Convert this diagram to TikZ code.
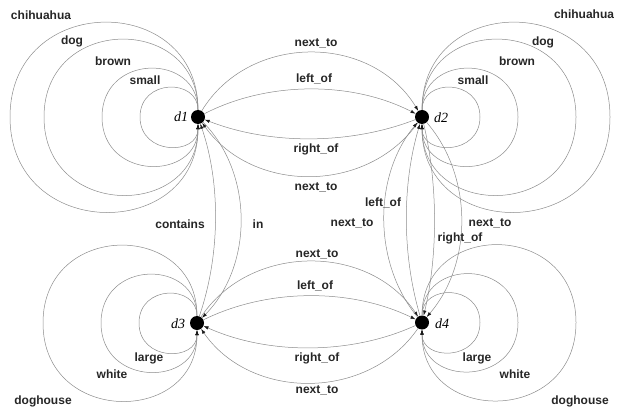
\documentclass[tikz,border=0pt]{standalone}
\usepackage{fontspec}
\setmainfont{Liberation Sans}
\newfontfamily\italfont{Liberation Serif}
\usetikzlibrary{arrows.meta}

\begin{document}
\begin{tikzpicture}[x=1pt,y=-1pt,
  nodedot/.style={circle,fill=black,minimum size=14pt,inner sep=0pt},
  nodetext/.style={font=\italfont\itshape\fontsize{14}{14}\selectfont,inner sep=0pt},
  reltext/.style={font=\bfseries\fontsize{12}{12}\selectfont,text=black!85,inner sep=0pt,
                  text height=8.6pt,text depth=0pt},
  conn/.style={draw=black!45,line width=0.5pt,
               -{Latex[length=5pt,width=3.4pt,color=black!90]}},
]
\useasboundingbox (0,0) rectangle (617,406);

% the four entities
\node[nodedot] (d1) at (198,117) {};
\node[nodedot] (d2) at (422,117) {};
\node[nodedot] (d3) at (197,323) {};
\node[nodedot] (d4) at (422,322.5) {};
\node[nodetext] (t1) at (181,117) {d1};
\node[nodetext] (t2) at (441,118) {d2};
\node[nodetext] (t3) at (178,324) {d3};
\node[nodetext] (t4) at (442,324) {d4};

% attribute self-loops: circles through the entity, left for d1/d3, right for d2/d4
\foreach \r/\nm in {29/small,48/brown,77/dog,94/chihuahua}{
  \coordinate (d1-\nm) at (198-2*\r,117);
  \draw[conn] (d1) .. controls +(0,-1.333*\r) and +(0,-1.333*\r) .. (d1-\nm)
                   .. controls +(0,1.333*\r) and +(0,1.333*\r) .. (d1);
  \coordinate (d2-\nm) at (422+2*\r,117);
  \draw[conn] (d2) .. controls +(0,-1.333*\r) and +(0,-1.333*\r) .. (d2-\nm)
                   .. controls +(0,1.333*\r) and +(0,1.333*\r) .. (d2);
}
\foreach \r/\nm in {29/large,48/white,77/doghouse}{
  \coordinate (d3-\nm) at (197-2*\r,323);
  \draw[conn] (d3) .. controls +(0,-1.333*\r) and +(0,-1.333*\r) .. (d3-\nm)
                   .. controls +(0,1.333*\r) and +(0,1.333*\r) .. (d3);
  \coordinate (d4-\nm) at (422+2*\r,322.5);
  \draw[conn] (d4) .. controls +(0,-1.333*\r) and +(0,-1.333*\r) .. (d4-\nm)
                   .. controls +(0,1.333*\r) and +(0,1.333*\r) .. (d4);
}

% loop labels
\node[reltext] (a1) at (41,15) {chihuahua};
\node[reltext] (a2) at (72,40) {dog};
\node[reltext] (a3) at (113,61) {brown};
\node[reltext] (a4) at (145,80) {small};
\node[reltext] (b1) at (584,14) {chihuahua};
\node[reltext] (b2) at (543,41) {dog};
\node[reltext] (b3) at (517,61) {brown};
\node[reltext] (b4) at (473,80) {small};
\node[reltext] (c1) at (149,357) {large};
\node[reltext] (c2) at (112,374) {white};
\node[reltext] (c3) at (43,400) {doghouse};
\node[reltext] (e1) at (477,357) {large};
\node[reltext] (e2) at (515,374) {white};
\node[reltext] (e3) at (580,400) {doghouse};

% d1 -- d2
\draw[conn] (d1) .. controls (249,33) and (371,33) .. (d2);
\draw[conn] (d1) .. controls (268,81) and (352,81) .. (d2);
\draw[conn] (d2) .. controls (350,145) and (270,145) .. (d1);
\draw[conn] (d2) .. controls (367,194) and (253,194) .. (d1);
\node[reltext] (l12a) at (316,42) {next\_to};
\node[reltext] (l12b) at (314,78) {left\_of};
\node[reltext] (l12c) at (316,148) {right\_of};
\node[reltext] (l12d) at (316,186) {next\_to};

% d3 -- d4
\draw[conn] (d3) .. controls (250,243) and (369,243) .. (d4);
\draw[conn] (d3) .. controls (268,288) and (351,288) .. (d4);
\draw[conn] (d4) .. controls (351,355) and (268,355) .. (d3);
\draw[conn] (d4) .. controls (368,401) and (251,401) .. (d3);
\node[reltext] (l34a) at (317,253) {next\_to};
\node[reltext] (l34b) at (315,285) {left\_of};
\node[reltext] (l34c) at (317,357) {right\_of};
\node[reltext] (l34d) at (317,389) {next\_to};

% d1 -- d3
\draw[conn] (d3) .. controls (220,256) and (221,184) .. (d1);
\draw[conn] (d1) .. controls (254,174) and (253,266) .. (d3);
\node[reltext] (l13a) at (180,224) {contains};
\node[reltext] (l13b) at (258,224) {in};

% d2 -- d4
\draw[conn] (d4) .. controls (373,263) and (373,176) .. (d2);
\draw[conn] (d4) .. controls (402,255) and (402,184) .. (d2);
\draw[conn] (d2) .. controls (438,184) and (438,255) .. (d4);
\draw[conn] (d2) .. controls (473,176) and (473,263) .. (d4);
\node[reltext] (l24a) at (383,202) {left\_of};
\node[reltext] (l24b) at (352,222) {next\_to};
\node[reltext] (l24c) at (460,237) {right\_of};
\node[reltext] (l24d) at (490,222) {next\_to};
\end{tikzpicture}
\end{document}
